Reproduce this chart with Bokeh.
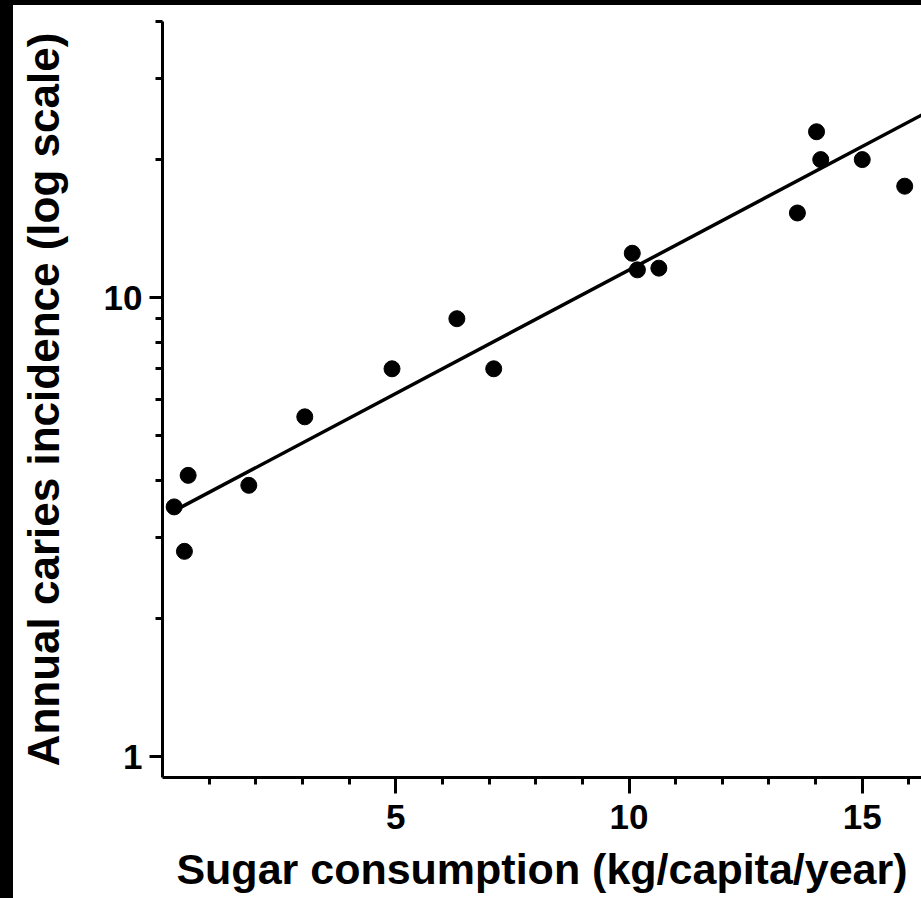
from bokeh.plotting import figure
from bokeh.models import FixedTicker, GlobalInlineStyleSheet
from bokeh.embed import file_html
from bokeh.resources import INLINE

# Data
sugar = [0.25, 0.47, 0.55, 1.85, 3.05, 4.92, 6.31, 7.10, 10.07, 10.18, 10.64,
         13.61, 14.02, 14.11, 15.00, 15.91]
caries = [3.5, 2.8, 4.1, 3.9, 5.5, 7.0, 9.0, 7.0, 12.5, 11.5, 11.6,
          15.3, 23.0, 20.0, 20.0, 17.5]
fit_x = [0.25, 16.3]
fit_y = [3.43, 25.1]

x_major = [5, 10, 15]
x_minor = [1, 2, 3, 4, 6, 7, 8, 9, 11, 12, 13, 14, 16]
y_major = [1, 10]
y_minor = [2, 3, 4, 5, 6, 7, 8, 9, 20, 30, 40]

FONT = "Liberation Sans"

p = figure(width=908, height=892, x_range=(0, 16.27), y_range=(0.9, 40),
           y_axis_type="log", output_backend="svg", toolbar_location=None,
           min_border_left=149, min_border_right=0, min_border_top=16,
           min_border_bottom=120)
p.stylesheets = [GlobalInlineStyleSheet(css=(
    "html { background: #ffffff; overflow: hidden; } "
    "body { margin: 0; border-left: 13px solid #000000; "
    "border-top: 5px solid #000000; background: #ffffff; }"))]
p.outline_line_color = None
p.grid.visible = False
p.background_fill_color = "white"
p.border_fill_color = "white"

p.line(fit_x, fit_y, line_color="black", line_width=3.5)
p.scatter(sugar, caries, size=16, color="black")

for ax in (p.xaxis[0], p.yaxis[0]):
    ax.axis_line_width = 3
    ax.axis_line_color = "black"
    ax.major_tick_line_width = 3
    ax.minor_tick_line_width = 3
    ax.major_tick_in = 0
    ax.minor_tick_in = 0
    ax.minor_tick_out = 7
    ax.major_label_text_font = FONT
    ax.major_label_text_font_style = "bold"
    ax.major_label_text_font_size = "35px"
    ax.major_label_text_color = "black"
    ax.axis_label_text_font = FONT
    ax.axis_label_text_font_style = "bold"
    ax.axis_label_text_color = "black"

p.xaxis.ticker = FixedTicker(ticks=x_major, minor_ticks=x_minor)
p.yaxis.ticker = FixedTicker(ticks=y_major, minor_ticks=y_minor)
p.yaxis.major_label_overrides = {1: "1", 10: "10"}
p.xaxis.major_tick_out = 16
p.yaxis.major_tick_out = 13
p.xaxis.major_label_standoff = 11
p.yaxis.major_label_standoff = 7
p.xaxis.axis_label = "Sugar consumption (kg/capita/year)"
p.yaxis.axis_label = "Annual caries incidence (log scale)"
p.xaxis.axis_label_text_font_size = "43px"
p.yaxis.axis_label_text_font_size = "44px"
p.xaxis.axis_label_standoff = 13
p.yaxis.axis_label_standoff = 33

open("out.html", "w").write(file_html(p, INLINE))
